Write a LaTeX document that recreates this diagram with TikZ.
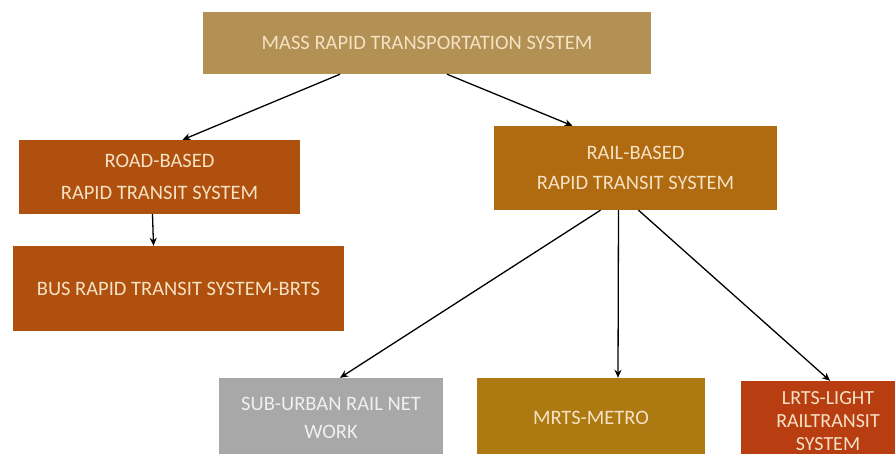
\documentclass[tikz,border=0pt]{standalone}
\usepackage{fontspec}
\setmainfont{Carlito}
\usetikzlibrary{shapes.geometric, arrows, arrows.meta}
\definecolor{mrtsgold}{RGB}{179,145,84}
\definecolor{roadbrown}{RGB}{176,80,14}
\definecolor{railbrown}{RGB}{176,106,16}
\definecolor{metrogold}{RGB}{173,122,18}
\definecolor{lightred}{RGB}{184,62,18}
\definecolor{greybox}{RGB}{168,168,168}
\definecolor{cream}{RGB}{245,226,196}
\tikzstyle{block} = [rectangle, inner sep=0pt, align=center, text=cream, font=\fontsize{20.5}{32}\selectfont]
\tikzstyle{arrow} = [line width=1.3pt, ->, >={Stealth[length=8pt, width=7pt]}]

\begin{document}
\begin{tikzpicture}[x=1pt, y=-1pt]
		\useasboundingbox (0,0) rectangle (895,454);
		\clip (0,0) rectangle (895,454);
		\node(mass) [block, fill=mrtsgold, minimum width=448pt, minimum height=62pt] at (427,43) {MASS RAPID TRANSPORTATION SYSTEM};
		\node(road) [block, fill=roadbrown, minimum width=281pt, minimum height=74pt] at (159.5,177) {ROAD-BASED\\RAPID TRANSIT SYSTEM};
		\node(rail) [block, fill=railbrown, minimum width=283pt, minimum height=84pt, font=\fontsize{20.5}{30}\selectfont] at (635.5,168) {RAIL-BASED\\RAPID TRANSIT SYSTEM};
		\node(brts) [block, fill=roadbrown, minimum width=331pt, minimum height=85pt] at (178.5,288.5) {BUS RAPID TRANSIT SYSTEM-BRTS};
		\node(sub) [block, fill=greybox, text=white!94!black, minimum width=224pt, minimum height=80pt, font=\fontsize{20.5}{28}\selectfont] at (331,418) {SUB-URBAN RAIL NET\\WORK};
		\node(metro) [block, fill=metrogold, minimum width=228pt, minimum height=80pt] at (591,418) {MRTS-METRO};
		\node(light) [block, fill=lightred, minimum width=174pt, minimum height=80pt, font=\fontsize{20}{23}\selectfont] at (828,421) {LRTS-LIGHT\\RAILTRANSIT\\SYSTEM};
		\draw [arrow] ([xshift=-87pt]mass.south) -- ([xshift=23pt]road.north);
		\draw [arrow] ([xshift=20pt]mass.south) -- ([xshift=-63pt]rail.north);
		\draw [arrow] ([xshift=-7pt]road.south) -- ([xshift=-25pt]brts.north);
		\draw [arrow] ([xshift=-35pt]rail.south) -- ([xshift=9pt]sub.north);
		\draw [arrow] ([xshift=-17pt]rail.south) -- ([xshift=27pt]metro.north);
		\draw [arrow] ([xshift=3pt]rail.south) -- ([xshift=2pt]light.north);
	\end{tikzpicture}
\end{document}
